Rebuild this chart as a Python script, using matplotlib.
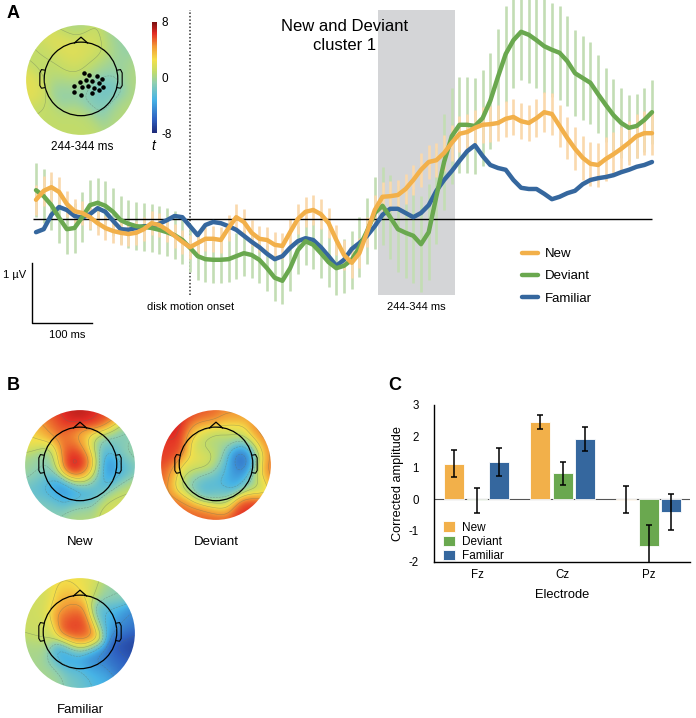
import numpy as np
import matplotlib
matplotlib.use("Agg")
import matplotlib.pyplot as plt
from matplotlib.colors import LinearSegmentedColormap, Normalize
from matplotlib.cm import ScalarMappable
from matplotlib.patches import Circle, Rectangle

plt.rcParams['font.family'] = ['Liberation Sans', 'DejaVu Sans']
plt.rcParams['axes.unicode_minus'] = False

# === ERP data (panel A), µV, 10 ms steps from -200 to 600 ms ===
time_ms = np.arange(-200, 601, 10)

new_mean = [0.32, 0.47, 0.53, 0.45, 0.25, 0.13, 0.10, 0.03, -0.07, -0.15,
            -0.20, -0.23, -0.25, -0.23, -0.17, -0.07, -0.10, -0.18, -0.28, -0.38,
            -0.47, -0.40, -0.33, -0.33, -0.35, -0.15, 0.03, -0.05, -0.23, -0.33,
            -0.35, -0.43, -0.45, -0.22, 0.00, 0.12, 0.15, 0.08, -0.07, -0.35,
            -0.60, -0.73, -0.57, -0.22, 0.15, 0.37, 0.38, 0.40, 0.50, 0.65,
            0.82, 0.95, 0.98, 1.10, 1.27, 1.42, 1.45, 1.52, 1.57, 1.58,
            1.60, 1.67, 1.70, 1.63, 1.60, 1.68, 1.78, 1.75, 1.55, 1.35,
            1.17, 1.02, 0.92, 0.90, 1.00, 1.08, 1.17, 1.27, 1.38, 1.43,
            1.43]
dev_mean = [0.48, 0.38, 0.23, 0.02, -0.17, -0.15, 0.03, 0.23, 0.27, 0.22,
            0.12, -0.02, -0.08, -0.12, -0.13, -0.15, -0.18, -0.22, -0.27, -0.35,
            -0.48, -0.62, -0.67, -0.68, -0.68, -0.67, -0.62, -0.57, -0.60, -0.68,
            -0.82, -0.98, -1.03, -0.82, -0.52, -0.37, -0.43, -0.57, -0.72, -0.82,
            -0.78, -0.68, -0.47, -0.20, 0.10, 0.22, 0.03, -0.17, -0.23, -0.28,
            -0.42, -0.22, 0.38, 0.95, 1.38, 1.57, 1.57, 1.55, 1.68, 1.97,
            2.37, 2.75, 2.98, 3.12, 3.07, 2.98, 2.88, 2.82, 2.77, 2.63,
            2.43, 2.35, 2.27, 2.08, 1.90, 1.73, 1.60, 1.52, 1.55, 1.65,
            1.78]
fam_mean = [-0.22, -0.17, 0.07, 0.20, 0.15, 0.05, 0.02, 0.08, 0.18, 0.12,
            -0.03, -0.17, -0.18, -0.15, -0.12, -0.12, -0.08, -0.02, 0.05, 0.03,
            -0.12, -0.27, -0.10, -0.05, -0.07, -0.12, -0.18, -0.28, -0.38, -0.47,
            -0.58, -0.67, -0.62, -0.48, -0.37, -0.32, -0.35, -0.47, -0.62, -0.78,
            -0.68, -0.50, -0.40, -0.28, -0.12, 0.07, 0.17, 0.17, 0.10, 0.03,
            0.10, 0.23, 0.47, 0.65, 0.80, 0.97, 1.13, 1.23, 1.05, 0.90,
            0.85, 0.82, 0.65, 0.52, 0.50, 0.50, 0.42, 0.33, 0.37, 0.43,
            0.47, 0.58, 0.65, 0.68, 0.70, 0.73, 0.78, 0.82, 0.87, 0.90,
            0.95]

new_sem = [0.25, 0.25, 0.25, 0.25, 0.22, 0.20, 0.20, 0.20, 0.20, 0.20,
           0.20, 0.20, 0.20, 0.20, 0.20, 0.20, 0.20, 0.20, 0.20, 0.20,
           0.20, 0.20, 0.20, 0.22, 0.22, 0.22, 0.22, 0.22, 0.22, 0.22,
           0.22, 0.22, 0.22, 0.22, 0.25, 0.25, 0.25, 0.25, 0.25, 0.25,
           0.25, 0.25, 0.25, 0.25, 0.25, 0.25, 0.25, 0.25, 0.25, 0.25,
           0.28, 0.28, 0.28, 0.30, 0.30, 0.30, 0.30, 0.30, 0.30, 0.30,
           0.30, 0.30, 0.30, 0.30, 0.30, 0.32, 0.33, 0.35, 0.35, 0.35,
           0.36, 0.37, 0.37, 0.37, 0.37, 0.37, 0.37, 0.37, 0.37, 0.37,
           0.37]
dev_sem = [0.45, 0.45, 0.42, 0.42, 0.42, 0.42, 0.42, 0.42, 0.42, 0.42,
           0.40, 0.40, 0.40, 0.40, 0.40, 0.40, 0.40, 0.40, 0.40, 0.40,
           0.40, 0.40, 0.38, 0.38, 0.38, 0.38, 0.38, 0.38, 0.38, 0.38,
           0.38, 0.38, 0.38, 0.38, 0.40, 0.40, 0.40, 0.42, 0.42, 0.45,
           0.45, 0.48, 0.50, 0.55, 0.60, 0.65, 0.70, 0.72, 0.75, 0.78,
           0.80, 0.80, 0.80, 0.80, 0.80, 0.80, 0.80, 0.80, 0.80, 0.80,
           0.80, 0.80, 0.80, 0.80, 0.80, 0.80, 0.78, 0.78, 0.78, 0.75,
           0.72, 0.70, 0.68, 0.65, 0.62, 0.60, 0.58, 0.55, 0.53, 0.53,
           0.53]

cluster_window = (244, 344)

# === topomap samples (unit-disk coords, value) ===
clus_u = [-0.31, 0.14, -0.13, 0.35, -0.90, 0.46, 0.35, -0.31, 0.00, 0.64, -0.13, 0.94,
          -0.60, 0.70, -0.70, 0.00, 0.30, -0.45, 0.60, 0.15]
clus_v = [0.63, 0.57, 0.24, 0.63, -0.18, -0.15, -0.36, -0.18, -0.65, 0.70, 0.95, 0.06,
          0.40, -0.50, -0.60, 0.00, 0.25, 0.15, 0.20, -0.25]
clus_t = [2.2, 2.0, 1.8, 1.2, 2.0, -2.5, -1.5, -0.8, 0.8, -0.8, 0.0, 0.3,
          0.8, 0.5, 0.8, 0.3, 0.2, 0.5, -0.6, -1.2]
sig_u = [0.05, 0.15, 0.29, 0.39, -0.02, 0.10, 0.20, 0.32, 0.40, -0.12, 0.02, 0.12,
         0.24, 0.33, -0.12, 0.00, 0.20]
sig_v = [0.13, 0.09, 0.07, 0.01, -0.03, 0.00, -0.01, -0.06, -0.13, -0.11, -0.13, -0.11,
         -0.15, -0.19, -0.21, -0.28, -0.23]

new_u = [-0.24, 0.11, 0.47, -0.60, -0.84, -0.18, 0.05, -0.04, -0.15, 0.11, -0.54, -0.84,
         0.35, 0.53, 0.77, 0.71, 0.89, -0.36, 0.00, 0.35, -0.66, 0.00, -0.54, 0.59, 0.89,
         -0.45, 0.30, -0.08]
new_v = [0.92, 0.95, 0.86, 0.74, 0.50, 0.45, 0.45, 0.06, 0.21, -0.09, 0.09, -0.03,
         0.33, -0.03, -0.09, 0.50, 0.21, -0.45, -0.50, -0.33, -0.33, -0.86, -0.74, -0.74, -0.45,
         0.85, 0.92, 0.0]
new_val = [0.88, 0.90, 0.65, 0.55, 0.30, 0.65, 0.40, 0.97, 0.80, 0.55, -0.20, 0.00,
           -0.30, -0.75, -0.30, -0.20, 0.00, -0.65, -0.50, -0.40, -0.30, 0.05, -0.10, 0.20, 0.15,
           0.75, 0.82, 0.95]

dev_u = [-0.64, -0.88, -0.17, 0.31, 0.79, 0.96, 0.67, 0.00, -0.64, -0.91, -0.52, 0.31,
         -0.29, -0.05, -0.17, 0.13, 0.43, 0.55, 0.25, -0.17, -0.46, 0.07, 0.67,
         0.95, 0.50, -0.30, -0.95, -0.35]
dev_v = [0.68, 0.21, 0.95, 0.92, 0.57, -0.09, -0.80, -0.98, -0.68, -0.21, -0.09, 0.57,
         0.57, 0.33, 0.09, -0.09, -0.03, 0.21, -0.27, -0.39, -0.33, -0.57, -0.33,
         0.30, -0.85, -0.95, 0.30, 0.92]
dev_val = [0.88, 0.78, 0.65, 0.62, 0.65, 0.72, 0.82, 0.72, 0.70, 0.68, 0.30, 0.10,
           0.10, -0.05, 0.35, -0.10, -0.85, -0.70, -0.60, -0.45, -0.30, -0.10, 0.00,
           0.65, 0.78, 0.68, 0.75, 0.80]

fam_u = [-0.24, 0.17, 0.53, -0.66, -0.24, -0.04, -0.18, 0.05, -0.72, -0.84, 0.47, 0.77,
         0.92, 0.71, -0.24, 0.23, 0.00, -0.54, 0.35]
fam_v = [0.89, 0.89, 0.77, 0.65, 0.60, 0.09, 0.30, -0.06, 0.06, -0.36, 0.30, 0.12,
         -0.24, -0.54, -0.42, -0.48, -0.83, -0.77, -0.83]
fam_val = [0.30, 0.25, -0.10, 0.15, 0.55, 0.90, 0.65, 0.60, 0.15, 0.00, -0.35, -0.60,
           -0.90, -0.70, -0.50, -0.65, -0.20, 0.00, -0.40]

# === bar data (panel C) ===
electrodes = ['Fz', 'Cz', 'Pz']
new_amp = [1.13, 2.46, -0.01]
new_err = [0.43, 0.21, 0.43]
dev_amp = [-0.04, 0.82, -1.50]
dev_err = [0.41, 0.38, 0.67]
fam_amp = [1.18, 1.92, -0.41]
fam_err = [0.45, 0.37, 0.58]

NEW_C, DEV_C, FAM_C = '#f2b04a', '#6aa84f', '#35679e'
NEW_H, DEV_H = '#fad9ad', '#c3ddb4'

cmap = LinearSegmentedColormap.from_list('scalp', [
    (0.0, '#1e2a78'), (0.12, '#2e5fc0'), (0.3, '#47b4e6'), (0.45, '#8fcfb0'),
    (0.55, '#c2dc6a'), (0.66, '#f4e04a'), (0.78, '#f39a35'), (0.9, '#e32b24'),
    (1.0, '#7a1010')])

W, H = 696, 718
fig = plt.figure(figsize=(W / 100, H / 100), dpi=100)


def box(x0, y0, x1, y1):
    return [x0 / W, 1 - y1 / H, (x1 - x0) / W, (y1 - y0) / H]


def ftext(x, y, s, **kw):
    kw.setdefault('va', 'center')
    fig.text(x / W, 1 - y / H, s, **kw)


def topo(rect, u, v, val, vmin, vmax, dots=None):
    tax = fig.add_axes(rect)
    tax.set_xlim(-1.02, 1.02); tax.set_ylim(-1.02, 1.02)
    tax.set_aspect('equal'); tax.axis('off')
    g = np.linspace(-1, 1, 141)
    gx, gy = np.meshgrid(g, g)
    u, v, val = np.array(u), np.array(v), np.array(val)
    d2 = (gx[..., None] - u) ** 2 + (gy[..., None] - v) ** 2
    w = np.exp(-d2 / (2 * 0.2 ** 2)) + 1e-12
    z = (w * val).sum(-1) / w.sum(-1)
    clip = Circle((0, 0), 1, transform=tax.transData)
    im = tax.imshow(z, extent=(-1, 1, -1, 1), origin='lower', cmap=cmap,
                    vmin=vmin, vmax=vmax, interpolation='bilinear')
    im.set_clip_path(clip)
    cs = tax.contour(gx, gy, z, levels=np.linspace(vmin, vmax, 10),
                     colors='#5d6d5e', linewidths=0.4, alpha=0.45)
    cs.set_clip_path(clip)
    # head outline
    tax.add_patch(Circle((0, 0.02), 0.67, fill=False, lw=0.9, ec='k'))
    tax.plot([-0.12, 0, 0.12], [0.675, 0.78, 0.675], color='k', lw=0.9)
    for s in (-1, 1):
        tax.plot([s * 0.665, s * 0.72, s * 0.75, s * 0.75, s * 0.72, s * 0.665],
                 [0.18, 0.19, 0.13, -0.10, -0.15, -0.14], color='k', lw=0.8)
    if dots is not None:
        tax.scatter(dots[0], dots[1], s=5, color='k', zorder=5)
    return tax


# === Panel A: ERP ===
ax = fig.add_axes(box(20, 0, 660, 340))
ax.set_xlim(-220.8, 610.4)
ax.set_ylim(-2.017, 3.65)
ax.axis('off')

ax.add_patch(Rectangle((cluster_window[0], -1.27), cluster_window[1] - cluster_window[0], 4.75,
                       color='#d4d5d7', lw=0, zorder=0))
ax.vlines(0, -1.27, 3.48, colors='#333333', linestyles=(0, (1, 1.3)), lw=1.1, zorder=1)

for m, s, c in [(dev_mean, dev_sem, DEV_H), (new_mean, new_sem, NEW_H)]:
    m, s = np.array(m), np.array(s)
    ax.vlines(time_ms, m - s, m + s, colors=c, lw=1.9, zorder=1)

ax.hlines(0, -204, 600, colors='k', lw=1.0, zorder=2)
l_fam, = ax.plot(time_ms, fam_mean, color=FAM_C, lw=3.2, zorder=3, solid_capstyle='round')
l_dev, = ax.plot(time_ms, dev_mean, color=DEV_C, lw=3.2, zorder=3, solid_capstyle='round')
l_new, = ax.plot(time_ms, new_mean, color=NEW_C, lw=3.2, zorder=3, solid_capstyle='round')

# scale bar
ax.plot([-205, -205, -127], [-0.733, -1.733, -1.733], color='k', lw=1.0, clip_on=False)
ftext(3, 275, '1 µV', fontsize=8, ha='left')
ftext(67, 335, '100 ms', fontsize=8, ha='center')
ftext(191, 307, 'disk motion onset', fontsize=8, ha='center')
ftext(416, 307, '244-344 ms', fontsize=8, ha='center')
ftext(345, 36, 'New and Deviant\ncluster 1', fontsize=12, ha='center', linespacing=1.35)

leg = ax.legend([l_new, l_dev, l_fam], ['New', 'Deviant', 'Familiar'],
                loc='upper left', bbox_to_anchor=(522 / W, 1 - 248 / H),
                bbox_transform=fig.transFigure, frameon=False, fontsize=9.5,
                handlelength=1.2, handletextpad=0.5, labelspacing=0.75,
                borderpad=0, borderaxespad=0)

ftext(13, 13, 'A', fontsize=13, fontweight='bold', ha='center')

# inset topomap + colorbar
topo(box(25, 24, 137, 136), clus_u, clus_v, clus_t, -8, 8, dots=(sig_u, sig_v))
cax = fig.add_axes(box(152, 22, 157, 133))
cb = fig.colorbar(ScalarMappable(norm=Normalize(-8, 8), cmap=cmap), cax=cax, ticks=[-8, 0, 8])
cb.outline.set_visible(False)
cax.tick_params(length=0, labelsize=8.5, pad=3)
ftext(82, 147, '244-344 ms', fontsize=8.5, ha='center')
ftext(153, 146, 't', fontsize=10, ha='center', style='italic')

# === Panel B: topomaps ===
ftext(13, 385, 'B', fontsize=13, fontweight='bold', ha='center')
topo(box(24, 409, 136, 521), new_u, new_v, new_val, -1, 1)
topo(box(160, 409, 272, 521), dev_u, dev_v, dev_val, -1, 1)
topo(box(24, 577, 136, 689), fam_u, fam_v, fam_val, -1, 1)
ftext(80, 542, 'New', fontsize=9.5, ha='center')
ftext(216, 542, 'Deviant', fontsize=9.5, ha='center')
ftext(80, 710, 'Familiar', fontsize=9.5, ha='center')

# === Panel C: bars ===
ftext(395, 385, 'C', fontsize=13, fontweight='bold', ha='center')
bx = fig.add_axes(box(434, 405, 690, 562))
xpos = np.arange(len(electrodes))
bw, off = 0.233, 0.262
ekw = dict(ecolor='k', elinewidth=1.1, capsize=2.5, capthick=1.1)
for k, (vals, errs, c, lab) in enumerate([(new_amp, new_err, NEW_C, 'New'),
                                          (dev_amp, dev_err, DEV_C, 'Deviant'),
                                          (fam_amp, fam_err, FAM_C, 'Familiar')]):
    bx.bar(xpos + (k - 1) * off, vals, width=bw, color=c, edgecolor='white', lw=0.6,
           yerr=errs, error_kw=ekw, label=lab, zorder=2)
bx.axhline(0, color='#555555', lw=0.8, zorder=1)
bx.set_xlim(-0.5, 2.48)
bx.set_ylim(-2, 3)
bx.set_yticks([-2, -1, 0, 1, 2, 3])
bx.set_xticks(xpos)
bx.set_xticklabels(electrodes)
bx.tick_params(length=0, labelsize=8.3)
bx.tick_params(axis='y', pad=11)
bx.tick_params(axis='x', pad=5)
for sp in ('top', 'right'):
    bx.spines[sp].set_visible(False)
for sp in ('left', 'bottom'):
    bx.spines[sp].set_linewidth(1.0)
bx.set_ylabel('Corrected amplitude', fontsize=9.2, labelpad=3)
bx.set_xlabel('Electrode', fontsize=9.3, labelpad=6)
bx.legend(loc='lower left', bbox_to_anchor=(0.035, 0.0), frameon=False, fontsize=8.5,
          handlelength=1.0, handleheight=1.0, handletextpad=0.6, labelspacing=0.15,
          borderpad=0, borderaxespad=0)

fig.savefig('out.png', dpi=100)
